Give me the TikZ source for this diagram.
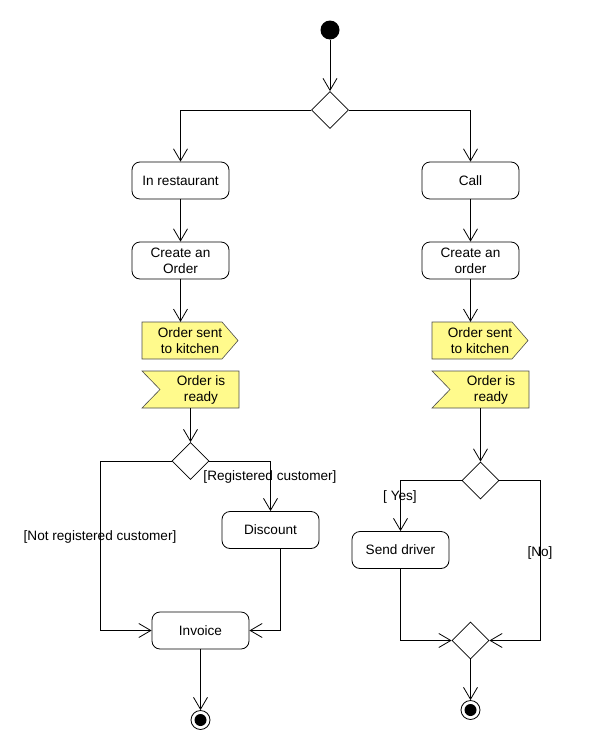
\documentclass[tikz,border=0pt]{standalone}
\usepackage{fontspec}
\setmainfont{Liberation Sans}
\usetikzlibrary{positioning}
\usetikzlibrary{shapes.geometric, arrows.meta}
\definecolor{sigyellow}{RGB}{255,250,140}
\newcommand{\sendsignal}{\draw[draw=black!70, fill=sigyellow, line width=0.6pt] (-48,-18.5) -- (32,-18.5) -- (48,0) -- (32,18.5) -- (-48,18.5) -- cycle;}
\newcommand{\acceptsignal}{\draw[draw=black!70, fill=sigyellow, line width=0.6pt] (-48.5,-18.5) -- (48.5,-18.5) -- (48.5,18.5) -- (-48.5,18.5) -- (-30.5,0) -- cycle;}
\tikzset{every node/.style={font=\fontsize{13.6}{16}\selectfont},
	action/.style={draw, rounded corners=8pt, minimum width=97pt, minimum height=37pt, inner sep=0pt, align=center, line width=0.8pt},
	decision/.style={draw, diamond, minimum width=37pt, minimum height=37pt, inner sep=0pt, line width=0.8pt},
	sigtext/.style={minimum height=37pt, inner sep=0pt, align=center},
	flow/.style={-{Straight Barb[length=12pt,width=14pt]}, line width=0.8pt},
	guard/.style={inner sep=1pt},
	initial/.style={circle, fill=black, minimum size=19pt, inner sep=0pt},
	final/.style={circle, draw, line width=0.8pt, minimum size=19pt, inner sep=0pt, path picture={\fill (path picture bounding box.center) circle (6pt);}}}

\begin{document}
\begin{tikzpicture}[x=1pt, y=-1pt]

	\useasboundingbox (0,0) rectangle (590,750);

	\begin{scope}[shift={(190,340.5)}]
		\sendsignal
	\end{scope}

	\begin{scope}[shift={(480,340.5)}]
		\sendsignal
	\end{scope}

	\begin{scope}[shift={(190.5,389.5)}]
		\acceptsignal
	\end{scope}

	\begin{scope}[shift={(480.5,389.5)}]
		\acceptsignal
	\end{scope}

	\node[initial] (start) at (330,30) {};
	\node[decision] (split) at (330,110) {};

	\node[action] (rest) at (180.5,180.5) {In restaurant};
	\node[action] (call) at (470.5,180.5) {Call};

	\node[action] (orderL) at (180.5,260.5) {Create an\\Order};
	\node[action] (orderR) at (470.5,260.5) {Create an\\order};

	\node[sigtext] (sentL) at (190,340.5) {Order sent\\to kitchen};
	\node[sigtext] (sentR) at (480,340.5) {Order sent\\to kitchen};

	\node[sigtext] (readyL) at (201,389.5) {Order is\\ready};
	\node[sigtext] (readyR) at (491,389.5) {Order is\\ready};

	\node[decision] (custdec) at (190.5,461) {};
	\node[action] (discount) at (270.5,530) {Discount};
	\node[action] (invoice) at (200.5,630.5) {Invoice};
	\node[final] (endL) at (200.5,720) {};
	\coordinate (notreg) at (100,461);

	\node[decision] (drvdec) at (480.5,480.5) {};
	\node[action] (driver) at (400.5,550) {Send driver};
	\node[decision] (merge) at (470.5,640.5) {};
	\node[final] (endR) at (470.5,710) {};
	\coordinate (nodrv) at (540,480.5);

	\draw[flow] (start) -- (split.north);
	\draw[flow] (split.west) -| (rest.north);
	\draw[flow] (split.east) -| (call.north);
	\draw[flow] (rest) -- (orderL);
	\draw[flow] (call) -- (orderR);
	\draw[flow] (orderL.south) -- (orderL.south |- sentL.north);
	\draw[flow] (orderR.south) -- (orderR.south |- sentR.north);

	\draw[flow] (custdec.north |- readyL.south) -- (custdec.north);
	\draw[flow] (custdec.east) -| (discount.north);
	\draw[flow] (custdec.west) -- (notreg) |- (invoice.west);
	\draw[flow] ([xshift=10pt]discount.south) |- (invoice.east);
	\draw[flow] (invoice) -- (endL);
	\node[guard] (regtxt) at (270,477) {[Registered customer]};
	\node[guard] (notregtxt) at (100,537) {[Not registered customer]};

	\draw[flow] (drvdec.north |- readyR.south) -- (drvdec.north);
	\draw[flow] (drvdec.west) -| (driver.north);
	\draw[flow] (drvdec.east) -- (nodrv) |- (merge.east);
	\draw[flow] (driver.south) |- (merge.west);
	\draw[flow] (merge) -- (endR);
	\node[guard] (yestxt) at (400,497) {[ Yes]};
	\node[guard] (notxt) at (540,553) {[No]};

\end{tikzpicture}
\end{document}
